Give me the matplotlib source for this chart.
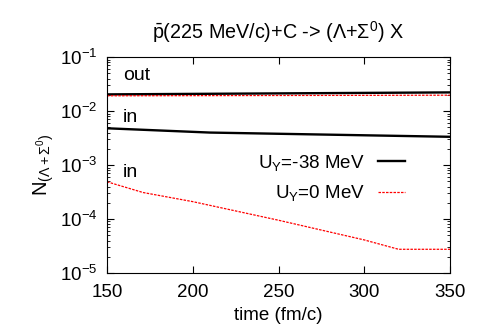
import matplotlib
matplotlib.use("Agg")
from matplotlib import pyplot as plt
from matplotlib.ticker import LogLocator, MultipleLocator, NullFormatter

plt.rcParams["font.family"] = ["Liberation Sans", "DejaVu Sans"]
plt.rcParams["mathtext.fontset"] = "custom"
plt.rcParams["mathtext.rm"] = "Liberation Sans"
plt.rcParams["mathtext.it"] = "Liberation Sans:italic"

# time (fm/c)
t_out = [150, 350]
t_in38 = [150, 210, 350]
t_in0 = [150, 171, 200, 250, 300, 320, 350]

# N of (Lambda + Sigma0)
out_38 = [0.0204, 0.0222]
out_0 = [0.0192, 0.0197]
in_38 = [0.0048, 0.0040, 0.00334]
in_0 = [4.9e-4, 3.1e-4, 2.1e-4, 9.5e-5, 4.1e-5, 2.75e-5, 2.75e-5]

fs = 13.5

fig = plt.figure(figsize=(4.8, 3.36), dpi=100)
ax = fig.add_axes([0.223, 0.1875, 0.7145, 0.6425])

ax.plot(t_out, out_38, color="black", linewidth=1.7, label=r"U$_{\rm Y}$=-38 MeV")
ax.plot(t_in38, in_38, color="black", linewidth=1.7)
ax.plot(t_out, out_0, color="red", linewidth=0.9, linestyle=(0, (2, 1)), label=r"U$_{\rm Y}$=0 MeV")
ax.plot(t_in0, in_0, color="red", linewidth=0.9, linestyle=(0, (2, 1)))

ax.set_yscale("log")
ax.set_xlim(150, 350)
ax.set_ylim(1e-5, 1e-1)
ax.xaxis.set_major_locator(MultipleLocator(50))
ax.yaxis.set_major_locator(LogLocator(base=10, numticks=10))
ax.yaxis.set_minor_locator(LogLocator(base=10, subs=range(2, 10), numticks=20))
ax.yaxis.set_minor_formatter(NullFormatter())
ax.tick_params(which="both", direction="in", top=True, right=True, labelsize=fs)
ax.tick_params(which="major", length=5)
ax.tick_params(which="minor", length=2.5)
ax.tick_params(axis="x", pad=8)
ax.tick_params(axis="y", pad=7)

ax.text(159.3, 0.0464, "out", fontsize=14, va="center")
ax.text(159.3, 0.00774, "in", fontsize=14, va="center")
ax.text(159.3, 7.4e-4, "in", fontsize=14, va="center")

ax.set_xlabel("time (fm/c)", fontsize=fs, labelpad=4)
ax.set_ylabel(r"N$_{(\Lambda+\Sigma^0)}$", fontsize=14.5, labelpad=3)
ax.set_title(r"$\bar{\rm p}$(225 MeV/c)+C -> ($\Lambda$+$\Sigma^0$) X", fontsize=14.2, pad=13)

ax.legend(loc="center right", bbox_to_anchor=(0.869, 0.44), frameon=False,
          fontsize=fs, markerfirst=False, handlelength=1.45, handletextpad=0.7,
          labelspacing=0.55, borderpad=0, borderaxespad=0)

fig.savefig("out.png", dpi=100)
